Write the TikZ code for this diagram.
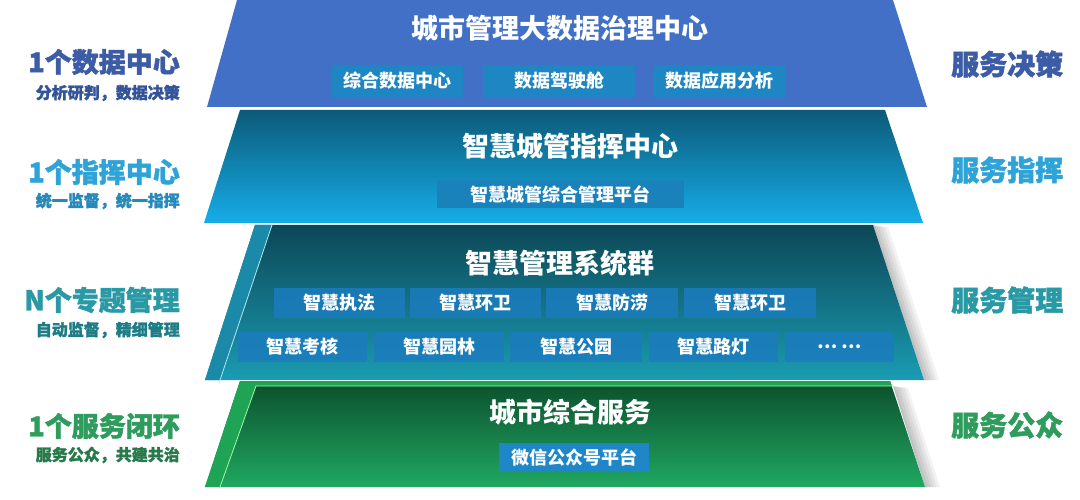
\documentclass[tikz,border=0pt]{standalone}
\usepackage{fontspec}
\setmainfont{Noto Sans CJK SC}
\newfontfamily\heavyfont{Noto Sans CJK SC}[BoldFeatures={FakeBold=1.6}]
\definecolor{Lone}{HTML}{4270C6}
\definecolor{Ltwoa}{HTML}{0C5A78}
\definecolor{Ltwob}{HTML}{1590C4}
\definecolor{Ltwoc}{HTML}{16ADE8}
\definecolor{Lthra}{HTML}{0C4756}
\definecolor{Lthrb}{HTML}{1A9CB2}
\definecolor{Lthrs}{HTML}{1A8AA8}
\definecolor{Lfoua}{HTML}{0C4F2C}
\definecolor{Lfoub}{HTML}{20A862}
\definecolor{Lfous}{HTML}{1FA456}
\definecolor{Bone}{HTML}{1F86C4}
\definecolor{Btwo}{HTML}{1A82BA}
\definecolor{Bthr}{HTML}{1B7CBE}
\definecolor{Bfou}{HTML}{1F86C8}
\definecolor{Tone}{HTML}{3C5CA5}
\definecolor{Ttwo}{HTML}{2EA3D8}
\definecolor{Tthr}{HTML}{2A99A6}
\definecolor{Tfou}{HTML}{2E9C5C}
\definecolor{Sone}{HTML}{34549A}
\definecolor{Stwo}{HTML}{2789BA}
\definecolor{Sthr}{HTML}{1D7C86}
\definecolor{Sfou}{HTML}{287A4C}
\tikzset{
  ttl/.style={text=white, font=\bfseries\fontsize{27}{30}\selectfont, inner sep=0pt},
  subbox/.style={fill=#1, text=white, font=\bfseries\fontsize{18}{20}\selectfont, inner sep=0pt},
  biglab/.style={text=#1, font=\heavyfont\bfseries\fontsize{27}{30}\selectfont, inner sep=0pt},
  smalllab/.style={text=#1, font=\heavyfont\bfseries\fontsize{16}{18}\selectfont, inner sep=0pt},
  rightlab/.style={text=#1, font=\heavyfont\bfseries\fontsize{28}{30}\selectfont, inner sep=0pt, anchor=west},
  edgeline/.style={draw=white!70!cyan, line width=0.8pt},
}
\begin{document}
\begin{tikzpicture}[x=1pt,y=-1pt]
\useasboundingbox (0,0) rectangle (1080,500);
\fill[white] (0,0) rectangle (1080,500);

% shadows on the right of layers 3 and 4
\foreach \d in {3,6,9,12,15}{
  \fill[black, opacity=0.05] (873,225) -- (873+\d,227) -- (924+\d,380) -- (924,380) -- cycle;
  \fill[black, opacity=0.05] (893,386) -- (893+\d,388) -- (925+\d,487) -- (925,487) -- cycle;
}

% layer 1
\fill[Lone] (237,0) -- (893,0) -- (927,107) -- (207,107) -- cycle;
% layer 2
\shade[top color=Ltwoa, middle color=Ltwob, bottom color=Ltwoc] (240,110) -- (885,110) -- (923,223) -- (204,223) -- cycle;
% layer 3
\shade[top color=Lthra, bottom color=Lthrb] (255,225) -- (873,225) -- (924,380) -- (205,380) -- cycle;
\fill[Lthrs] (255,225) -- (272,225) -- (220,380) -- (205,380) -- cycle;
\draw[edgeline] (272,225) -- (219,383);
% layer 4
\shade[top color=Lfoua, bottom color=Lfoub] (240,381) -- (890,381) -- (925,487) -- (205,487) -- cycle;
\fill[Lfous] (240,381) -- (890,381) -- (892,386) -- (256,386) -- (220,487) -- (205,487) -- cycle;
\draw[draw=white!60!green, line width=0.8pt] (893,386) -- (256,386) -- (220,487);

% titles
\node[ttl] (t1) at (560,28) {城市管理大数据治理中心};
\node[ttl] (t2) at (570,146) {智慧城管指挥中心};
\node[ttl] (t3) at (560,263) {智慧管理系统群};
\node[ttl] (t4) at (570,412) {城市综合服务};

% layer 1 boxes
\node[subbox=Bone, minimum width=131, minimum height=32] (a1) at (397.5,81) {综合数据中心};
\node[subbox=Bone, minimum width=152, minimum height=32] (a2) at (559,81) {数据驾驶舱};
\node[subbox=Bone, minimum width=132, minimum height=32] (a3) at (719,81) {数据应用分析};
% layer 2 box
\node[subbox=Btwo, minimum width=247, minimum height=28] (b1) at (560.5,194) {智慧城管综合管理平台};
% layer 3 boxes
\node[subbox=Bthr, fill opacity=0.85, text opacity=1, minimum width=131, minimum height=30] (c1) at (339.5,303) {智慧执法};
\node[subbox=Bthr, fill opacity=0.85, text opacity=1, minimum width=131, minimum height=30] (c2) at (475.5,303) {智慧环卫};
\node[subbox=Bthr, fill opacity=0.85, text opacity=1, minimum width=132, minimum height=30] (c3) at (612,303) {智慧防涝};
\node[subbox=Bthr, fill opacity=0.85, text opacity=1, minimum width=132, minimum height=30] (c4) at (750,303) {智慧环卫};
\node[subbox=Bthr, fill opacity=0.85, text opacity=1, minimum width=129, minimum height=30] (d1) at (302.5,347) {智慧考核};
\node[subbox=Bthr, fill opacity=0.85, text opacity=1, minimum width=130, minimum height=30] (d2) at (439,347) {智慧园林};
\node[subbox=Bthr, fill opacity=0.85, text opacity=1, minimum width=132, minimum height=30] (d3) at (576,347) {智慧公园};
\node[subbox=Bthr, fill opacity=0.85, text opacity=1, minimum width=129, minimum height=30] (d4) at (713.5,347) {智慧路灯};
\node[subbox=Bthr, fill opacity=0.85, text opacity=1, minimum width=109, minimum height=30] (d5) at (839.5,347) {… …};
% layer 4 box
\node[subbox=Bfou, minimum width=150, minimum height=29] (e1) at (574,457.5) {微信公众号平台};

% left labels
\node[biglab=Tone, anchor=east] (l1) at (180,62) {1个数据中心};
\node[smalllab=Sone, anchor=east] (s1) at (180,93) {分析研判，数据决策};
\node[biglab=Ttwo, anchor=east] (l2) at (180,172) {1个指挥中心};
\node[smalllab=Stwo, anchor=east] (s2) at (180,201) {统一监督，统一指挥};
\node[biglab=Tthr, anchor=east] (l3) at (180,300) {N个专题管理};
\node[smalllab=Sthr, anchor=east] (s3) at (180,330) {自动监督，精细管理};
\node[biglab=Tfou, anchor=east] (l4) at (180,426) {1个服务闭环};
\node[smalllab=Sfou, anchor=east] (s4) at (180,455) {服务公众，共建共治};

% right labels
\node[rightlab=Tone] (r1) at (951,64) {服务决策};
\node[rightlab=Ttwo] (r2) at (951,170) {服务指挥};
\node[rightlab=Tthr] (r3) at (951,300) {服务管理};
\node[rightlab=Tfou] (r4) at (951,425) {服务公众};
\end{tikzpicture}
\end{document}
